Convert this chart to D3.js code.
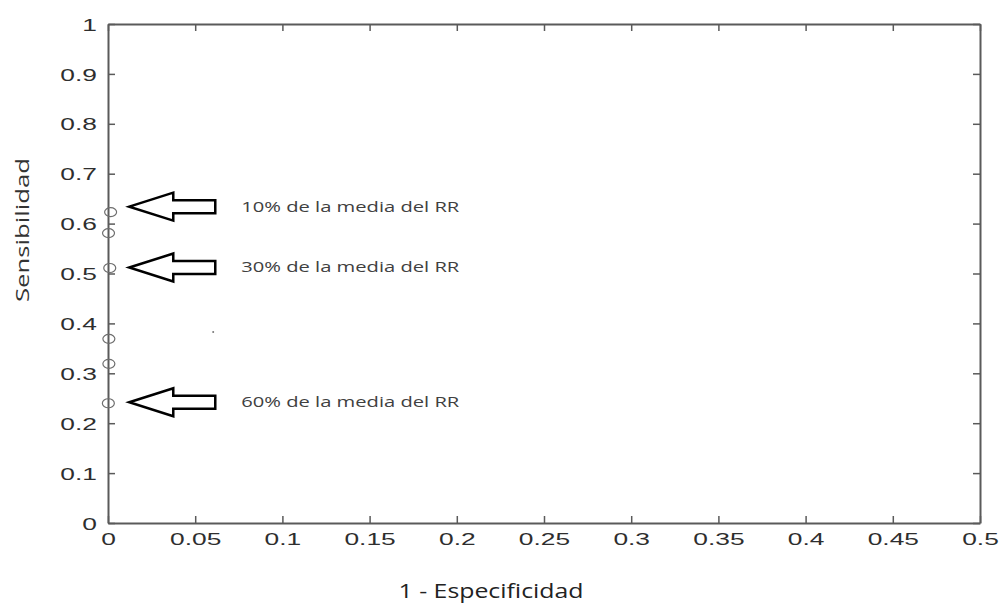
<!DOCTYPE html>
<html>
<head>
  <meta charset="utf-8">
  <title>Curva ROC</title>
  <script src="https://cdn.jsdelivr.net/npm/d3@7/dist/d3.min.js"></script>
  <style>
    body { margin: 0; background: #fff; overflow: hidden; }
    svg { display: block; }
  </style>
</head>
<body>
  <svg width="1003" height="607"></svg>

  <script>
    // puntos de la curva
    const fpr  = [0.0015, 0.0003, 0.001, 0.0005, 0.0005, 0.0002];
    const sens = [0.623, 0.581, 0.511, 0.369, 0.319, 0.240];

    // punto suelto
    const strayX = [0.0603];
    const strayY = [0.383];

    // flechas y textos
    const noteLabels = ["10% de la media del RR", "30% de la media del RR", "60% de la media del RR"];
    const noteY = [0.634, 0.512, 0.242];

    const xTicks = [0, 0.05, 0.1, 0.15, 0.2, 0.25, 0.3, 0.35, 0.4, 0.45, 0.5];
    const yTicks = [0, 0.1, 0.2, 0.3, 0.4, 0.5, 0.6, 0.7, 0.8, 0.9, 1];

    const svg = d3.select("svg");
    const margin = { top: 24, right: 23, bottom: 84, left: 108 };
    const innerWidth = +svg.attr("width") - margin.left - margin.right;
    const innerHeight = +svg.attr("height") - margin.top - margin.bottom;

    const g = svg.append("g")
      .attr("transform", `translate(${margin.left},${margin.top})`);

    const xScale = d3.scaleLinear().domain([0, 0.5]).range([0, innerWidth]);
    const yScale = d3.scaleLinear().domain([0, 1]).range([innerHeight, 0]);

    const fmt = d => d === 0 ? "0" : String(+d.toFixed(2));
    const axisColor = "#5a5a5a";

    // ejes tipo matlab, marcas hacia dentro
    const xBottom = g.append("g")
      .attr("transform", `translate(0,${innerHeight})`)
      .call(d3.axisBottom(xScale).tickValues(xTicks).tickFormat(fmt)
        .tickSizeInner(-7).tickSizeOuter(0).tickPadding(10));
    const yLeft = g.append("g")
      .call(d3.axisLeft(yScale).tickValues(yTicks).tickFormat(fmt)
        .tickSizeInner(-7).tickSizeOuter(0).tickPadding(11));
    const xTop = g.append("g")
      .call(d3.axisTop(xScale).tickValues(xTicks)
        .tickSizeInner(-7).tickSizeOuter(0));
    const yRight = g.append("g")
      .attr("transform", `translate(${innerWidth},0)`)
      .call(d3.axisRight(yScale).tickValues(yTicks)
        .tickSizeInner(-7).tickSizeOuter(0));

    // arriba y a la derecha solo marcas
    xTop.selectAll(".tick text").remove();
    yRight.selectAll(".tick text").remove();

    [xBottom, yLeft, xTop, yRight].forEach(ax => {
      ax.select(".domain").attr("stroke", axisColor).attr("stroke-width", 2);
      ax.selectAll(".tick line").attr("stroke", axisColor).attr("stroke-width", 1.5);
    });

    // numeros estirados a lo ancho como en la figura
    [xBottom, yLeft].forEach(ax => {
      ax.selectAll(".tick text")
        .attr("fill", "#2e2e2e")
        .style("font-family", "'Liberation Sans', Arial, sans-serif")
        .style("font-size", "17px")
        .each(function () {
          const w = this.getComputedTextLength();
          d3.select(this)
            .attr("textLength", w * 1.55)
            .attr("lengthAdjust", "spacingAndGlyphs");
        });
    });
    yLeft.selectAll(".tick text").attr("dy", "0.36em");

    // puntos
    g.selectAll("ellipse.pt")
      .data(fpr.map((d, i) => ({ x: d, y: sens[i] })))
      .join("ellipse")
      .attr("class", "pt")
      .attr("cx", d => xScale(d.x))
      .attr("cy", d => yScale(d.y))
      .attr("rx", 6)
      .attr("ry", 4.5)
      .attr("fill", "none")
      .attr("stroke", "#6e6e6e")
      .attr("stroke-width", 1.2);

    g.selectAll("circle.stray")
      .data(strayX.map((d, i) => ({ x: d, y: strayY[i] })))
      .join("circle")
      .attr("class", "stray")
      .attr("cx", d => xScale(d.x))
      .attr("cy", d => yScale(d.y))
      .attr("r", 1)
      .attr("fill", "#777");

    // flechas huecas
    const tipX = xScale(0.0122);
    const arrowPath = "M0,0 L44,-14 L44,-6.5 L86,-6.5 L86,6.5 L44,6.5 L44,14 Z";
    const notes = g.selectAll("g.note")
      .data(noteLabels.map((d, i) => ({ label: d, y: noteY[i] })))
      .join("g")
      .attr("class", "note")
      .attr("transform", d => `translate(${tipX},${yScale(d.y)})`);

    notes.append("path")
      .attr("d", arrowPath)
      .attr("fill", "#fff")
      .attr("stroke", "#000")
      .attr("stroke-width", 2.5)
      .attr("stroke-linejoin", "miter");

    notes.append("text")
      .attr("x", 112)
      .attr("dy", "0.35em")
      .attr("fill", "#404040")
      .attr("textLength", 218)
      .attr("lengthAdjust", "spacingAndGlyphs")
      .style("font-family", "'Open Sans', sans-serif")
      .style("font-size", "14px")
      .text(d => d.label);

    // titulos de ejes
    svg.append("text")
      .attr("transform", "translate(29,230) rotate(-90)")
      .attr("text-anchor", "middle")
      .attr("fill", "#333")
      .attr("textLength", 144)
      .attr("lengthAdjust", "spacingAndGlyphs")
      .style("font-family", "'Open Sans', sans-serif")
      .style("font-size", "19px")
      .text("Sensibilidad");

    svg.append("text")
      .attr("x", 491)
      .attr("y", 598)
      .attr("text-anchor", "middle")
      .attr("fill", "#222")
      .attr("textLength", 185)
      .attr("lengthAdjust", "spacingAndGlyphs")
      .style("font-family", "'Open Sans', sans-serif")
      .style("font-size", "20px")
      .text("1 - Especificidad");
  </script>
</body>
</html>
